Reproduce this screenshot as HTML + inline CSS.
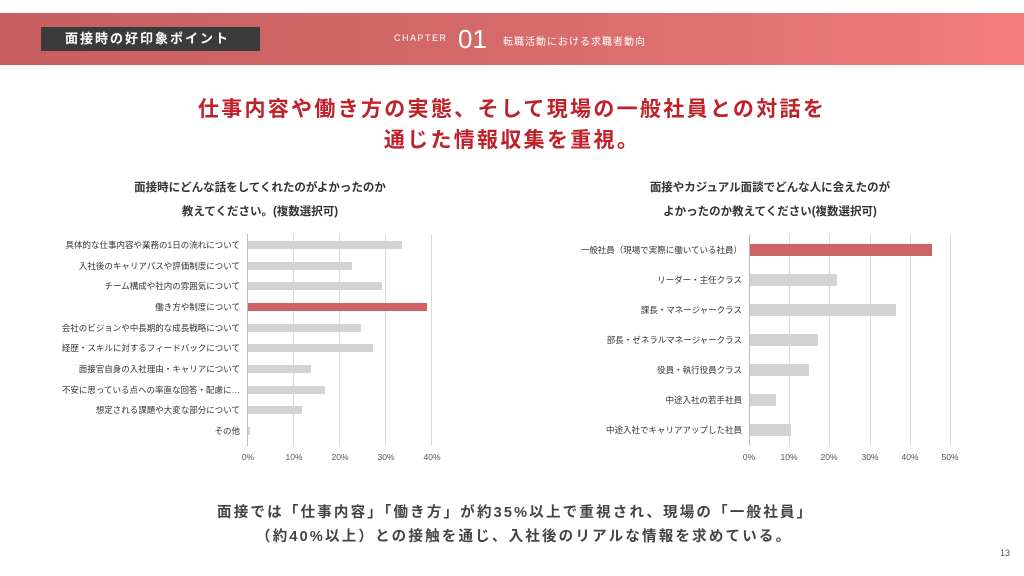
<!DOCTYPE html>
<html><head><meta charset="utf-8"><style>
*{margin:0;padding:0;box-sizing:border-box}
body{width:1024px;height:576px;position:relative;background:#fff;overflow:hidden;font-family:"Liberation Sans","Noto Sans CJK JP",sans-serif;color:#333}
.a{position:absolute;white-space:nowrap}
.hdr{left:0;top:13px;width:1024px;height:52px;background:linear-gradient(90deg,#c65e5f 0%,#d66a6a 50%,#f47c7c 100%)}
.tb{left:41px;top:27px;width:219px;height:24px;background:#3b3b3b;color:#fff;font-size:13px;font-weight:bold;letter-spacing:2px;line-height:24px;padding-left:24px}
.t{color:#c0202a;font-size:21px;font-weight:bold;letter-spacing:2.3px;width:1024px;text-align:center;left:0}
.ct{font-size:11.5px;font-weight:bold;color:#333;text-align:center;line-height:24px}
.lb{font-size:8.5px;color:#333;text-align:right}
.tk{font-size:8.5px;color:#555;transform:translateX(-50%)}
.g{background:#d9d9d9;width:1px}
.bar{background:#d3d3d3}
.red{background:#cd6364}
.bt{font-size:14.5px;font-weight:bold;color:#444;letter-spacing:2.2px}
</style></head><body>
<div class="a hdr"></div>
<div class="a tb">面接時の好印象ポイント</div>
<div class="a" style="left:394px;top:33px;color:#fff;font-size:9px;letter-spacing:1.5px">CHAPTER</div>
<div class="a" style="left:458px;top:24px;color:#fff;font-size:26px;font-weight:300">01</div>
<div class="a" style="left:503px;top:33px;color:#fff;font-size:10px;letter-spacing:1px">転職活動における求職者動向</div>

<div class="a t" style="top:93px">仕事内容や働き方の実態、そして現場の一般社員との対話を</div>
<div class="a t" style="top:124px">通じた情報収集を重視。</div>

<div class="a ct" style="left:60px;width:400px;top:176px">面接時にどんな話をしてくれたのがよかったのか<br>教えてください。(複数選択可)</div>
<div class="a ct" style="left:570px;width:400px;top:176px">面接やカジュアル面談でどんな人に会えたのが<br>よかったのか教えてください(複数選択可)</div>

<!-- left chart -->
<div class="a g" style="left:247px;top:234px;height:212px;background:#bbb"></div>
<div class="a g" style="left:293px;top:234px;height:212px"></div>
<div class="a g" style="left:339px;top:234px;height:212px"></div>
<div class="a g" style="left:385px;top:234px;height:212px"></div>
<div class="a g" style="left:431px;top:234px;height:212px"></div>
<div class="a tk" style="left:248px;top:452px">0%</div>
<div class="a tk" style="left:294px;top:452px">10%</div>
<div class="a tk" style="left:340px;top:452px">20%</div>
<div class="a tk" style="left:386px;top:452px">30%</div>
<div class="a tk" style="left:432px;top:452px">40%</div>

<div class="a bar" style="left:248px;top:241px;width:154px;height:8px"></div>
<div class="a bar" style="left:248px;top:262px;width:104px;height:8px"></div>
<div class="a bar" style="left:248px;top:282px;width:134px;height:8px"></div>
<div class="a red" style="left:248px;top:303px;width:179px;height:8px"></div>
<div class="a bar" style="left:248px;top:324px;width:113px;height:8px"></div>
<div class="a bar" style="left:248px;top:344px;width:125px;height:8px"></div>
<div class="a bar" style="left:248px;top:365px;width:63px;height:8px"></div>
<div class="a bar" style="left:248px;top:386px;width:77px;height:8px"></div>
<div class="a bar" style="left:248px;top:406px;width:54px;height:8px"></div>
<div class="a bar" style="left:248px;top:427px;width:2px;height:8px"></div>

<div class="a lb" style="right:784px;top:239px">具体的な仕事内容や業務の1日の流れについて</div>
<div class="a lb" style="right:784px;top:260px">入社後のキャリアパスや評価制度について</div>
<div class="a lb" style="right:784px;top:280px">チーム構成や社内の雰囲気について</div>
<div class="a lb" style="right:784px;top:301px">働き方や制度について</div>
<div class="a lb" style="right:784px;top:322px">会社のビジョンや中長期的な成長戦略について</div>
<div class="a lb" style="right:784px;top:342px">経歴・スキルに対するフィードバックについて</div>
<div class="a lb" style="right:784px;top:363px">面接官自身の入社理由・キャリアについて</div>
<div class="a lb" style="right:784px;top:384px">不安に思っている点への率直な回答・配慮に…</div>
<div class="a lb" style="right:784px;top:404px">想定される課題や大変な部分について</div>
<div class="a lb" style="right:784px;top:425px">その他</div>

<!-- right chart -->
<div class="a g" style="left:749px;top:234px;height:212px;background:#bbb"></div>
<div class="a g" style="left:789px;top:234px;height:212px"></div>
<div class="a g" style="left:829px;top:234px;height:212px"></div>
<div class="a g" style="left:870px;top:234px;height:212px"></div>
<div class="a g" style="left:910px;top:234px;height:212px"></div>
<div class="a g" style="left:950px;top:234px;height:212px"></div>
<div class="a tk" style="left:749px;top:452px">0%</div>
<div class="a tk" style="left:789px;top:452px">10%</div>
<div class="a tk" style="left:829px;top:452px">20%</div>
<div class="a tk" style="left:870px;top:452px">30%</div>
<div class="a tk" style="left:910px;top:452px">40%</div>
<div class="a tk" style="left:950px;top:452px">50%</div>

<div class="a red" style="left:750px;top:244px;width:182px;height:12px"></div>
<div class="a bar" style="left:750px;top:274px;width:87px;height:12px"></div>
<div class="a bar" style="left:750px;top:304px;width:146px;height:12px"></div>
<div class="a bar" style="left:750px;top:334px;width:68px;height:12px"></div>
<div class="a bar" style="left:750px;top:364px;width:59px;height:12px"></div>
<div class="a bar" style="left:750px;top:394px;width:26px;height:12px"></div>
<div class="a bar" style="left:750px;top:424px;width:41px;height:12px"></div>

<div class="a lb" style="right:282px;top:244px">一般社員（現場で実際に働いている社員）</div>
<div class="a lb" style="right:282px;top:274px">リーダー・主任クラス</div>
<div class="a lb" style="right:282px;top:304px">課長・マネージャークラス</div>
<div class="a lb" style="right:282px;top:334px">部長・ゼネラルマネージャークラス</div>
<div class="a lb" style="right:282px;top:364px">役員・執行役員クラス</div>
<div class="a lb" style="right:282px;top:394px">中途入社の若手社員</div>
<div class="a lb" style="right:282px;top:424px">中途入社でキャリアアップした社員</div>

<div class="a bt" style="left:217px;top:501px">面接では「仕事内容」「働き方」が約35%以上で重視され、現場の「一般社員」</div>
<div class="a bt" style="left:256px;top:525px">（約40%以上）との接触を通じ、入社後のリアルな情報を求めている。</div>
<div class="a" style="left:1000px;top:548px;font-size:9px;color:#555">13</div>
</body></html>
